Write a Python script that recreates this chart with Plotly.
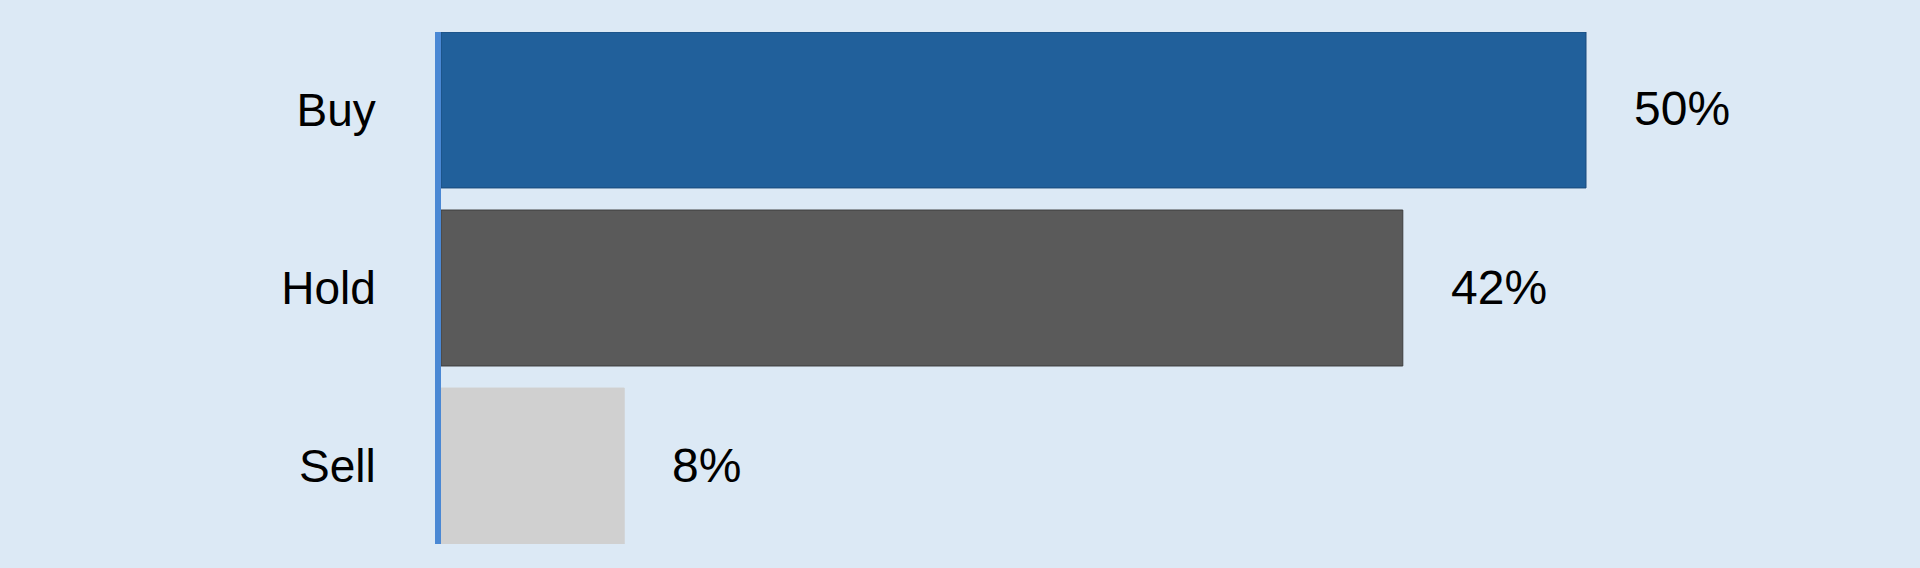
import plotly.graph_objects as go

# analyst ratings split
ratings = ['Buy', 'Hold', 'Sell']
shares = [50, 42, 8]
bar_colors = ['#21609b', '#5a5a5a', '#d0d0d0']
edge_colors = ['#1a4a7c', '#3e3e3e', '#d0d0d0']
share_labels = [f'{v}%' for v in shares]

gap = 0.124
half = (1 - gap) / 2

fig = go.Figure(go.Bar(
    x=shares,
    y=ratings,
    orientation='h',
    marker=dict(color=bar_colors, line=dict(color=edge_colors, width=1)),
    hoverinfo='skip',
))

# percentage labels sit well to the right of each bar
for r, v, lab in zip(ratings, shares, share_labels):
    fig.add_annotation(x=v, y=r, text=lab, showarrow=False,
                       xanchor='left', xshift=46, yshift=1,
                       font=dict(size=48, color='#000000'))

fig.update_layout(
    width=1920, height=568,
    paper_bgcolor='#dce9f5',
    plot_bgcolor='#dce9f5',
    font=dict(family='Liberation Sans, Arial, sans-serif', color='#000000'),
    margin=dict(l=441, r=105, t=32, b=24),
    bargap=gap,
    showlegend=False,
)
fig.update_xaxes(range=[0, 60], visible=False, fixedrange=True)
fig.update_yaxes(
    range=[len(ratings) - 1 + half, -half],
    showline=True, linecolor='#4a88d4', linewidth=6,
    showgrid=False, zeroline=False,
    ticks='', ticklabelstandoff=50,
    tickfont=dict(size=46),
    fixedrange=True,
)

fig.write_html('out.html', config={'displayModeBar': False},
               post_script="document.body.style.margin='0';")
